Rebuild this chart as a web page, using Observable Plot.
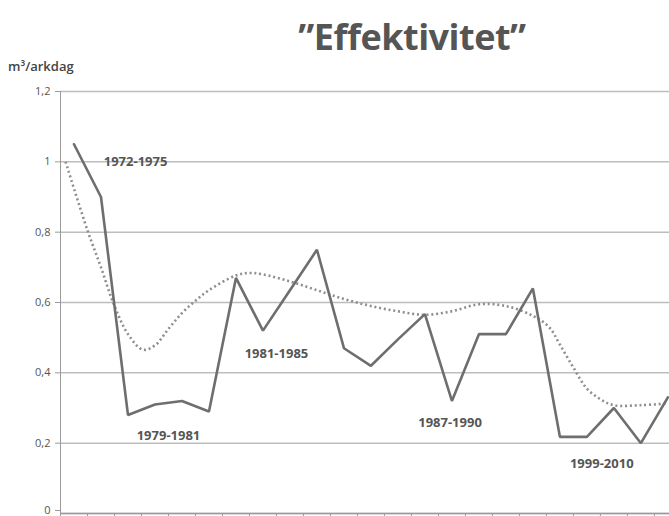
<!DOCTYPE html>
<html>
<head>
<meta charset="utf-8">
<script src="https://cdn.jsdelivr.net/npm/d3@7"></script>
<script src="https://cdn.jsdelivr.net/npm/@observablehq/plot@0.6"></script>
<style>
  html, body { margin: 0; padding: 0; background: #fff; overflow: hidden; }
  #wrap { position: relative; width: 669px; height: 516px; }
  #title { position: absolute; left: 0; top: 12px; width: 669px; text-align: center; padding-left: 155px; box-sizing: border-box;
           font-family: "Open Sans", sans-serif; font-weight: 700; font-size: 36px; color: #555; line-height: 50px; letter-spacing: -0.5px; }
  #unit { position: absolute; left: 8px; top: 57px; font-family: "Open Sans", sans-serif; font-weight: 600; font-size: 13px; color: #444; letter-spacing: 0px; }
  #chart { position: absolute; left: 0; top: 0; }
</style>
</head>
<body>
<div id="wrap">
  <div id="chart"></div>
  <div id="title">”Effektivitet”</div>
  <div id="unit">m³/arkdag</div>
</div>
<script>
// Solid series: one value per period (category index 0..22)
const values = [1.05, 0.90, 0.28, 0.31, 0.32, 0.29, 0.67, 0.52, 0.635, 0.75, 0.47, 0.42, 0.495, 0.567, 0.32, 0.51, 0.51, 0.64, 0.218, 0.218, 0.30, 0.20, 0.33];
// Dotted trend line (category index positions, values)
const trendX = [-0.31, 0.5, 1.0, 1.45, 2.0, 2.55, 3.0, 3.5, 4.0, 4.5, 5.0, 6.0, 6.5, 7.0, 8.0, 9.0, 10.0, 11.0, 12.0, 13.0, 14.0, 15.0, 16.0, 17.0, 17.6, 18.0, 18.5, 19.0, 19.5, 20.0, 21.0, 22.0];
const trendY = [1.0, 0.805, 0.70, 0.60, 0.51, 0.466, 0.478, 0.525, 0.57, 0.605, 0.635, 0.677, 0.684, 0.68, 0.66, 0.635, 0.61, 0.59, 0.575, 0.565, 0.575, 0.595, 0.59, 0.562, 0.53, 0.48, 0.415, 0.355, 0.325, 0.308, 0.308, 0.313];
// Period annotations
const annLabels = ["1972-1975", "1979-1981", "1981-1985", "1987-1990", "1999-2010"];
const annX = [2.28, 3.5, 7.5, 13.93, 19.55];
const annY = [1.0, 0.222, 0.455, 0.259, 0.14];
// Axis ticks
const yTicks = [0, 0.2, 0.4, 0.6, 0.8, 1.0, 1.2];
const yTickLabels = ["0", "0,2", "0,4", "0,6", "0,8", "1", "1,2"];
const xTickPos = d3.range(-0.5, 22, 1);

const series = values.map((v, i) => ({i, v}));
const trend = trendX.map((x, k) => ({x, y: trendY[k]}));
const ann = annLabels.map((t, k) => ({t, x: annX[k], y: annY[k]}));
const fmt = d => yTickLabels[yTicks.indexOf(d)];

const chart = Plot.plot({
  width: 669,
  height: 516,
  marginLeft: 60,
  marginRight: 0,
  marginTop: 91,
  marginBottom: 3,
  style: {fontFamily: "Open Sans, sans-serif", background: "transparent", overflow: "visible"},
  x: {domain: [-0.5, 22.06], axis: null},
  y: {domain: [0, 1.2], axis: null},
  marks: [
    Plot.gridY(yTicks, {stroke: "#bdbdbd", strokeOpacity: 1, strokeWidth: 1.5}),
    Plot.axisY(yTicks.slice(1), {tickSize: 5, tickPadding: 5, stroke: "#9a9a9a", fontSize: 11, fill: "#555", tickFormat: fmt, label: null}),
    Plot.axisY([0], {tickSize: 5, tickPadding: 5, stroke: "#9a9a9a", fontSize: 11, fill: "#555", tickFormat: fmt, label: null, dy: -3}),
    Plot.axisX(xTickPos, {anchor: "bottom", tickSize: 5, stroke: "#9a9a9a", tickFormat: () => "", label: null}),
    Plot.ruleX([-0.5], {stroke: "#9a9a9a", strokeWidth: 1}),
    Plot.ruleY([0], {stroke: "#9a9a9a", strokeWidth: 1.5}),
    Plot.line(trend, {x: "x", y: "y", curve: "catmull-rom", stroke: "#8e8e8e", strokeWidth: 2.6, strokeDasharray: "2,2.8", strokeLinecap: "butt"}),
    Plot.line(series, {x: "i", y: "v", stroke: "#6e6e6e", strokeWidth: 2.6, strokeLinejoin: "miter"}),
    Plot.text(ann, {x: "x", y: "y", text: "t", fill: "#555", fontSize: 13, fontWeight: 700, textAnchor: "middle", letterSpacing: "-0.2px"})
  ]
});
document.getElementById("chart").appendChild(chart);
</script>
</body>
</html>
